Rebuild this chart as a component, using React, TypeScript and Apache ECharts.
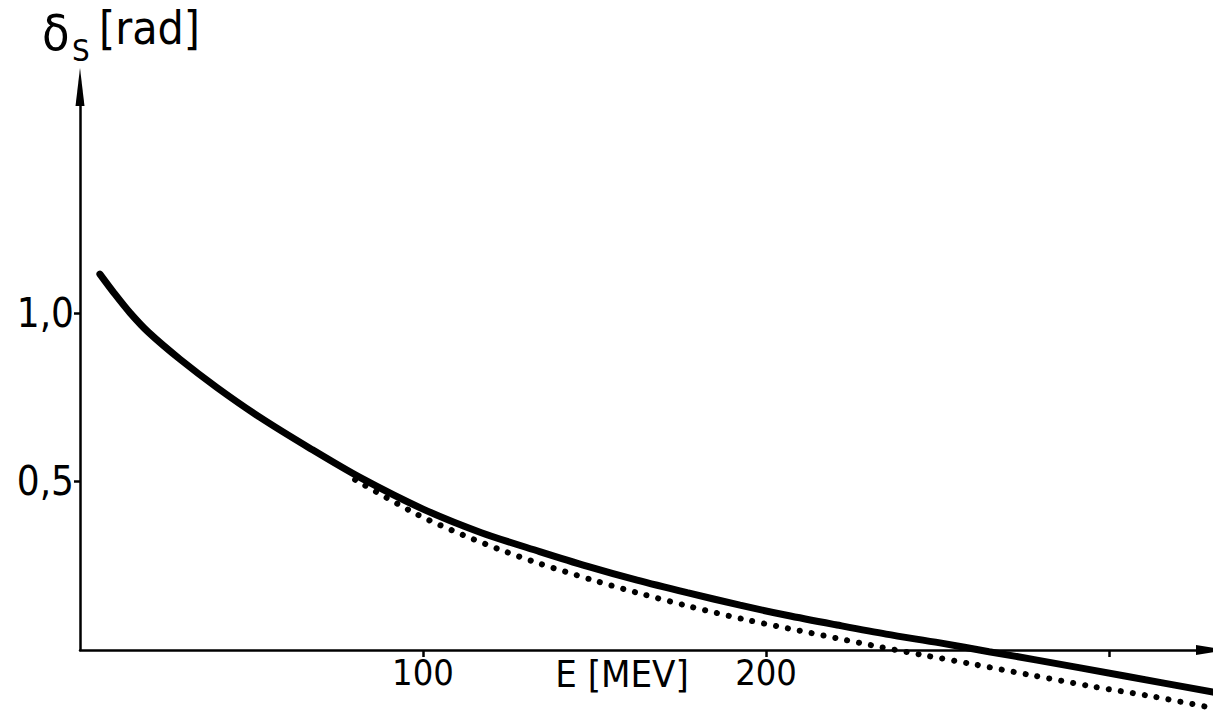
import React, { useEffect, useRef } from "react";
import * as echarts from "echarts";

// Solid curve: energy E [MeV] and phase shift delta_S [rad]
const solidEnergy = [5.8, 10, 14.6, 20, 29.2, 40, 52.5, 67.1, 81.6, 100, 117, 134, 148, 162.4, 177, 192.4, 206, 220.7, 235, 250.7, 265, 279, 305, 330.3];
const solidDelta = [1.115, 1.058, 1.0, 0.942, 0.862, 0.778, 0.69, 0.598, 0.512, 0.418, 0.348, 0.292, 0.248, 0.207, 0.17, 0.133, 0.103, 0.074, 0.047, 0.021, -0.005, -0.03, -0.078, -0.125];

// Dotted curve
const dottedEnergy = [80.2, 98.5, 111.7, 122.4, 133.2, 149.3, 162.4, 177.8, 194.5, 209.9, 223, 233.2, 245.8, 260.3, 277, 294.5, 313.4, 328.6];
const dottedDelta = [0.505, 0.401, 0.341, 0.298, 0.259, 0.208, 0.17, 0.129, 0.089, 0.057, 0.03, 0.009, -0.015, -0.042, -0.074, -0.107, -0.139, -0.169];

const yTickValues = [0.5, 1.0];
const xTickValues = [100, 200, 300];
const xLabelValues = [100, 200];

const FONT = "'Liberation Sans Narrow', 'DejaVu Sans Condensed', 'DejaVu Sans', sans-serif";

export default function App() {
  const ref = useRef<HTMLDivElement>(null);
  useEffect(() => {
    const chart = echarts.init(ref.current as HTMLDivElement, null, { renderer: "svg" });
    chart.setOption({
      animation: false,
      backgroundColor: "#ffffff",
      graphic: [
        { type: "text", left: 42, top: 8, style: { text: "δ", font: `50px ${FONT}`, fill: "#000" } },
        { type: "text", left: 72, top: 34, style: { text: "S", font: `31px ${FONT}`, fill: "#000" } },
        { type: "text", left: 99, top: 5, style: { text: "[rad]", font: `46px ${FONT}`, fill: "#000" } },
      ],
      grid: { left: 80, right: 1, top: 87, bottom: 63, containLabel: false, outerBoundsMode: "none" },
      xAxis: {
        type: "value",
        min: 0,
        max: 330,
        splitLine: { show: false },
        axisLine: {
          show: true,
          onZero: false,
          symbol: ["none", "triangle"],
          symbolSize: [10, 32],
          lineStyle: { color: "#000", width: 2.5 },
        },
        axisTick: { show: true, customValues: xTickValues, length: 7, lineStyle: { color: "#000", width: 2.5 } },
        axisLabel: { customValues: xLabelValues, fontFamily: FONT, fontSize: 36, color: "#000", margin: 4 },
        name: "E [MEV]",
        nameLocation: "middle",
        nameGap: 5,
        nameMoveOverlap: false,
        nameTextStyle: {
          fontFamily: FONT,
          fontSize: 38,
          color: "#000",
          verticalAlign: "top",
          padding: [0, 48, 0, 0],
        },
      },
      yAxis: {
        type: "value",
        min: 0,
        max: 1.67,
        splitLine: { show: false },
        axisLine: {
          show: true,
          onZero: false,
          symbol: ["none", "triangle"],
          symbolSize: [9, 38],
          lineStyle: { color: "#000", width: 2.5 },
        },
        axisTick: { show: true, customValues: yTickValues, length: 6, lineStyle: { color: "#000", width: 2.5 } },
        axisLabel: {
          customValues: yTickValues,
          formatter: (v: number) => v.toFixed(1).replace(".", ","),
          fontFamily: FONT,
          fontSize: 40,
          color: "#000",
          margin: 6,
        },
      },
      series: [
        {
          type: "line",
          data: solidEnergy.map((e, i) => [e, solidDelta[i]]),
          symbol: "none",
          smooth: 0.3,
          clip: false,
          lineStyle: { color: "#000", width: 7, cap: "round" },
        },
        {
          type: "line",
          data: dottedEnergy.map((e, i) => [e, dottedDelta[i]]),
          symbol: "none",
          smooth: 0.3,
          clip: false,
          lineStyle: { color: "#000", width: 6, type: [0.1, 12], cap: "round" },
        },
      ],
    });
    return () => chart.dispose();
  }, []);
  return <div ref={ref} style={{ position: "fixed", left: 0, top: 0, width: 1213, height: 713 }} />;
}
